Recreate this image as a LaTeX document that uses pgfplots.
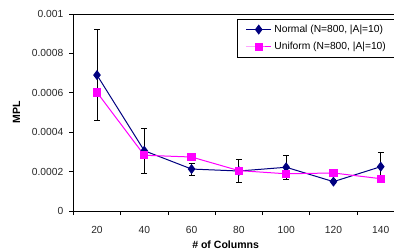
\documentclass[border=0pt]{standalone}
\usepackage{fontspec}
\setmainfont{Liberation Sans}
\usepackage{pgfplots}
\pgfplotsset{compat=1.18}
\definecolor{navy}{RGB}{0,0,128}
\definecolor{mag}{RGB}{255,0,255}
\begin{document}
\begin{tikzpicture}
\begin{axis}[
  at={(55pt,30pt)}, anchor=south west,
  scale only axis, width=248.3pt, height=147.75pt,
  xmin=10, xmax=150, ymin=0, ymax=0.001,
  axis line style={black, line width=0.75pt},
  tick align=outside, major tick length=3pt, minor tick length=3pt,
  tick style={black, line width=0.6pt},
  xtick={20,40,60,80,100,120,140},
  major x tick style={draw=none},
  minor xtick={10,30,50,70,90,110,130,150},
  minor x tick style={black, line width=0.6pt},
  xtick pos=bottom, ytick pos=left,
  ytick={0,0.0002,0.0004,0.0006,0.0008,0.001},
  yticklabels={0,0.0002,0.0004,0.0006,0.0008,0.001},
  scaled y ticks=false,
  /pgf/number format/assume math mode=true,
  ticklabel style={font=\fontsize{7.7}{9}\selectfont, text=black!85},
  xticklabel style={yshift=-5pt},
  yticklabel style={xshift=-1pt},
  xlabel={\textbf{\# of Columns}},
  ylabel={\textbf{MPL}},
  label style={font=\fontsize{7.9}{9}\selectfont},
  xlabel style={at={(axis description cs:0.46,-0.1777)}, anchor=center, yshift=0.8pt},
  ylabel style={at={(axis description cs:-0.1716,0.5)}, anchor=center},
  legend style={at={(axis description cs:0.494,0.9746)}, anchor=north west,
    draw=black, line width=0.75pt, fill=white,
    font=\fontsize{7.7}{9}\selectfont,
    inner xsep=6.25pt, inner ysep=2pt, row sep=2pt},
  legend cell align=left,
  legend image code/.code={\draw[mark repeat=2,mark phase=2,line width=0.75pt] plot coordinates {(0cm,0cm) (0.33cm,0cm) (0.66cm,0cm)};},
]
\addplot[color=navy, line width=0.75pt, mark=diamond*, mark size=3.2pt,
  mark options={solid, fill=navy, draw=navy},
  error bars/.cd, y dir=both, y explicit,
  error bar style={black, line width=0.6pt},
  error mark options={rotate=90, mark size=2.2pt, black, line width=0.6pt}]
  table[x=x, y=y, y error=e] {
x y e
20 0.000690 0.000230
40 0.000306 0.000113
60 0.000213 0.000030
80 0.000203 0.000057
100 0.000222 0.000060
120 0.000149 0.000010
140 0.000225 0.000070
};
\addlegendentry{Normal (N=800, |A|=10)}
\addplot[color=mag, line width=0.75pt, mark=square*, mark size=2.7pt,
  mark options={solid, fill=mag, draw=mag}]
  table[x=x, y=y] {
x y
20 0.000602
40 0.000283
60 0.000274
80 0.000205
100 0.000189
120 0.000193
140 0.000164
};
\addlegendentry{Uniform (N=800, |A|=10)}
\end{axis}
\pgfresetboundingbox
\useasboundingbox (0,0) rectangle (295.5pt,188.25pt);
\end{tikzpicture}
\end{document}
